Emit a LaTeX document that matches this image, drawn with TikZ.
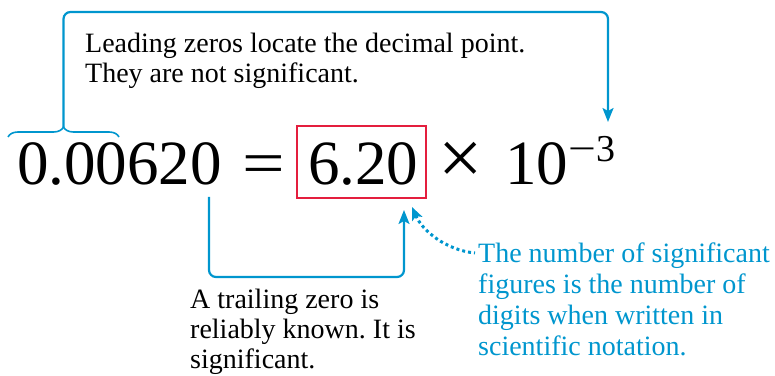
\documentclass[tikz,border=0pt]{standalone}
\usepackage{fontspec}
\setmainfont{Liberation Serif}
\frenchspacing
\usetikzlibrary{arrows.meta,decorations.pathreplacing}
\definecolor{cblue}{RGB}{0,150,206}
\definecolor{cred}{RGB}{228,30,62}
\tikzset{
  big/.style={font=\fontsize{63}{63}\selectfont, inner sep=0pt, anchor=base west},
  note/.style={font=\fontsize{28}{30.5}\selectfont, inner sep=0pt, anchor=base west, align=left},
  conn/.style={cblue, line width=2.2pt, rounded corners=7pt},
  tip/.style={-{Stealth[length=14pt,width=11pt,inset=3pt]}},
}
\begin{document}
\begin{tikzpicture}[x=1pt,y=1pt]
\useasboundingbox (0,0) rectangle (775,375);
% equation
\node[big] (num) at (17,190) {0.00620};
\node[big] (eq) at (242,190) {\scalebox{1.2}[1]{=}};
\node[big] (mant) at (308,190) {6.20};
\node[draw=cred, line width=1.5pt, minimum width=129pt, minimum height=72pt, inner sep=0pt] (box) at (361.5,213) {};
\node[big] (times) at (438,190) {\scalebox{1.25}{×}};
\node[big] (ten) at (505,190) {10};
\node[font=\fontsize{38}{38}\selectfont, inner sep=0pt, anchor=base west] (exp) at (568,213) {\scalebox{1.3}[1]{−}3};
% brace and top connector
\coordinate (bl) at (8,238);
\coordinate (br) at (119,238);
\draw[cblue, line width=1.6pt, decorate, decoration={brace, amplitude=10pt}] (bl) -- (br);
\coordinate (cusp) at (63.5,248);
\coordinate (topend) at (608,253);
\draw[conn, tip] (cusp) -- (63.5,363) -- (608,363) -- (topend);
% top note (base = last line)
\node[note, font=\fontsize{28}{30}\selectfont] (lead) at (85,292) {Leading zeros locate the decimal point.\\They are not significant.};
% bottom connector
\coordinate (bstart) at (209,178);
\coordinate (bend) at (404,165);
\draw[conn, tip] (bstart) -- (209,98) -- (404,98) -- (bend);
\node[note, font=\fontsize{28}{30}\selectfont] (trail) at (190,7) {A trailing zero is\\reliably known. It is\\significant.};
% blue note and dotted arrow
\node[note, text=cblue, font=\fontsize{28}{31}\selectfont] (sig) at (478,20) {The number of significant\\figures is the number of\\digits when written in\\scientific notation.};
\coordinate (dstart) at (475,122);
\coordinate (dtip) at (412,168);
\draw[cblue, line width=3pt, dash pattern=on 3pt off 3pt, {Stealth[length=13pt,width=11pt,inset=3pt]}-] (dtip) .. controls (422,145) and (445,125) .. (dstart);
\end{tikzpicture}
\end{document}
